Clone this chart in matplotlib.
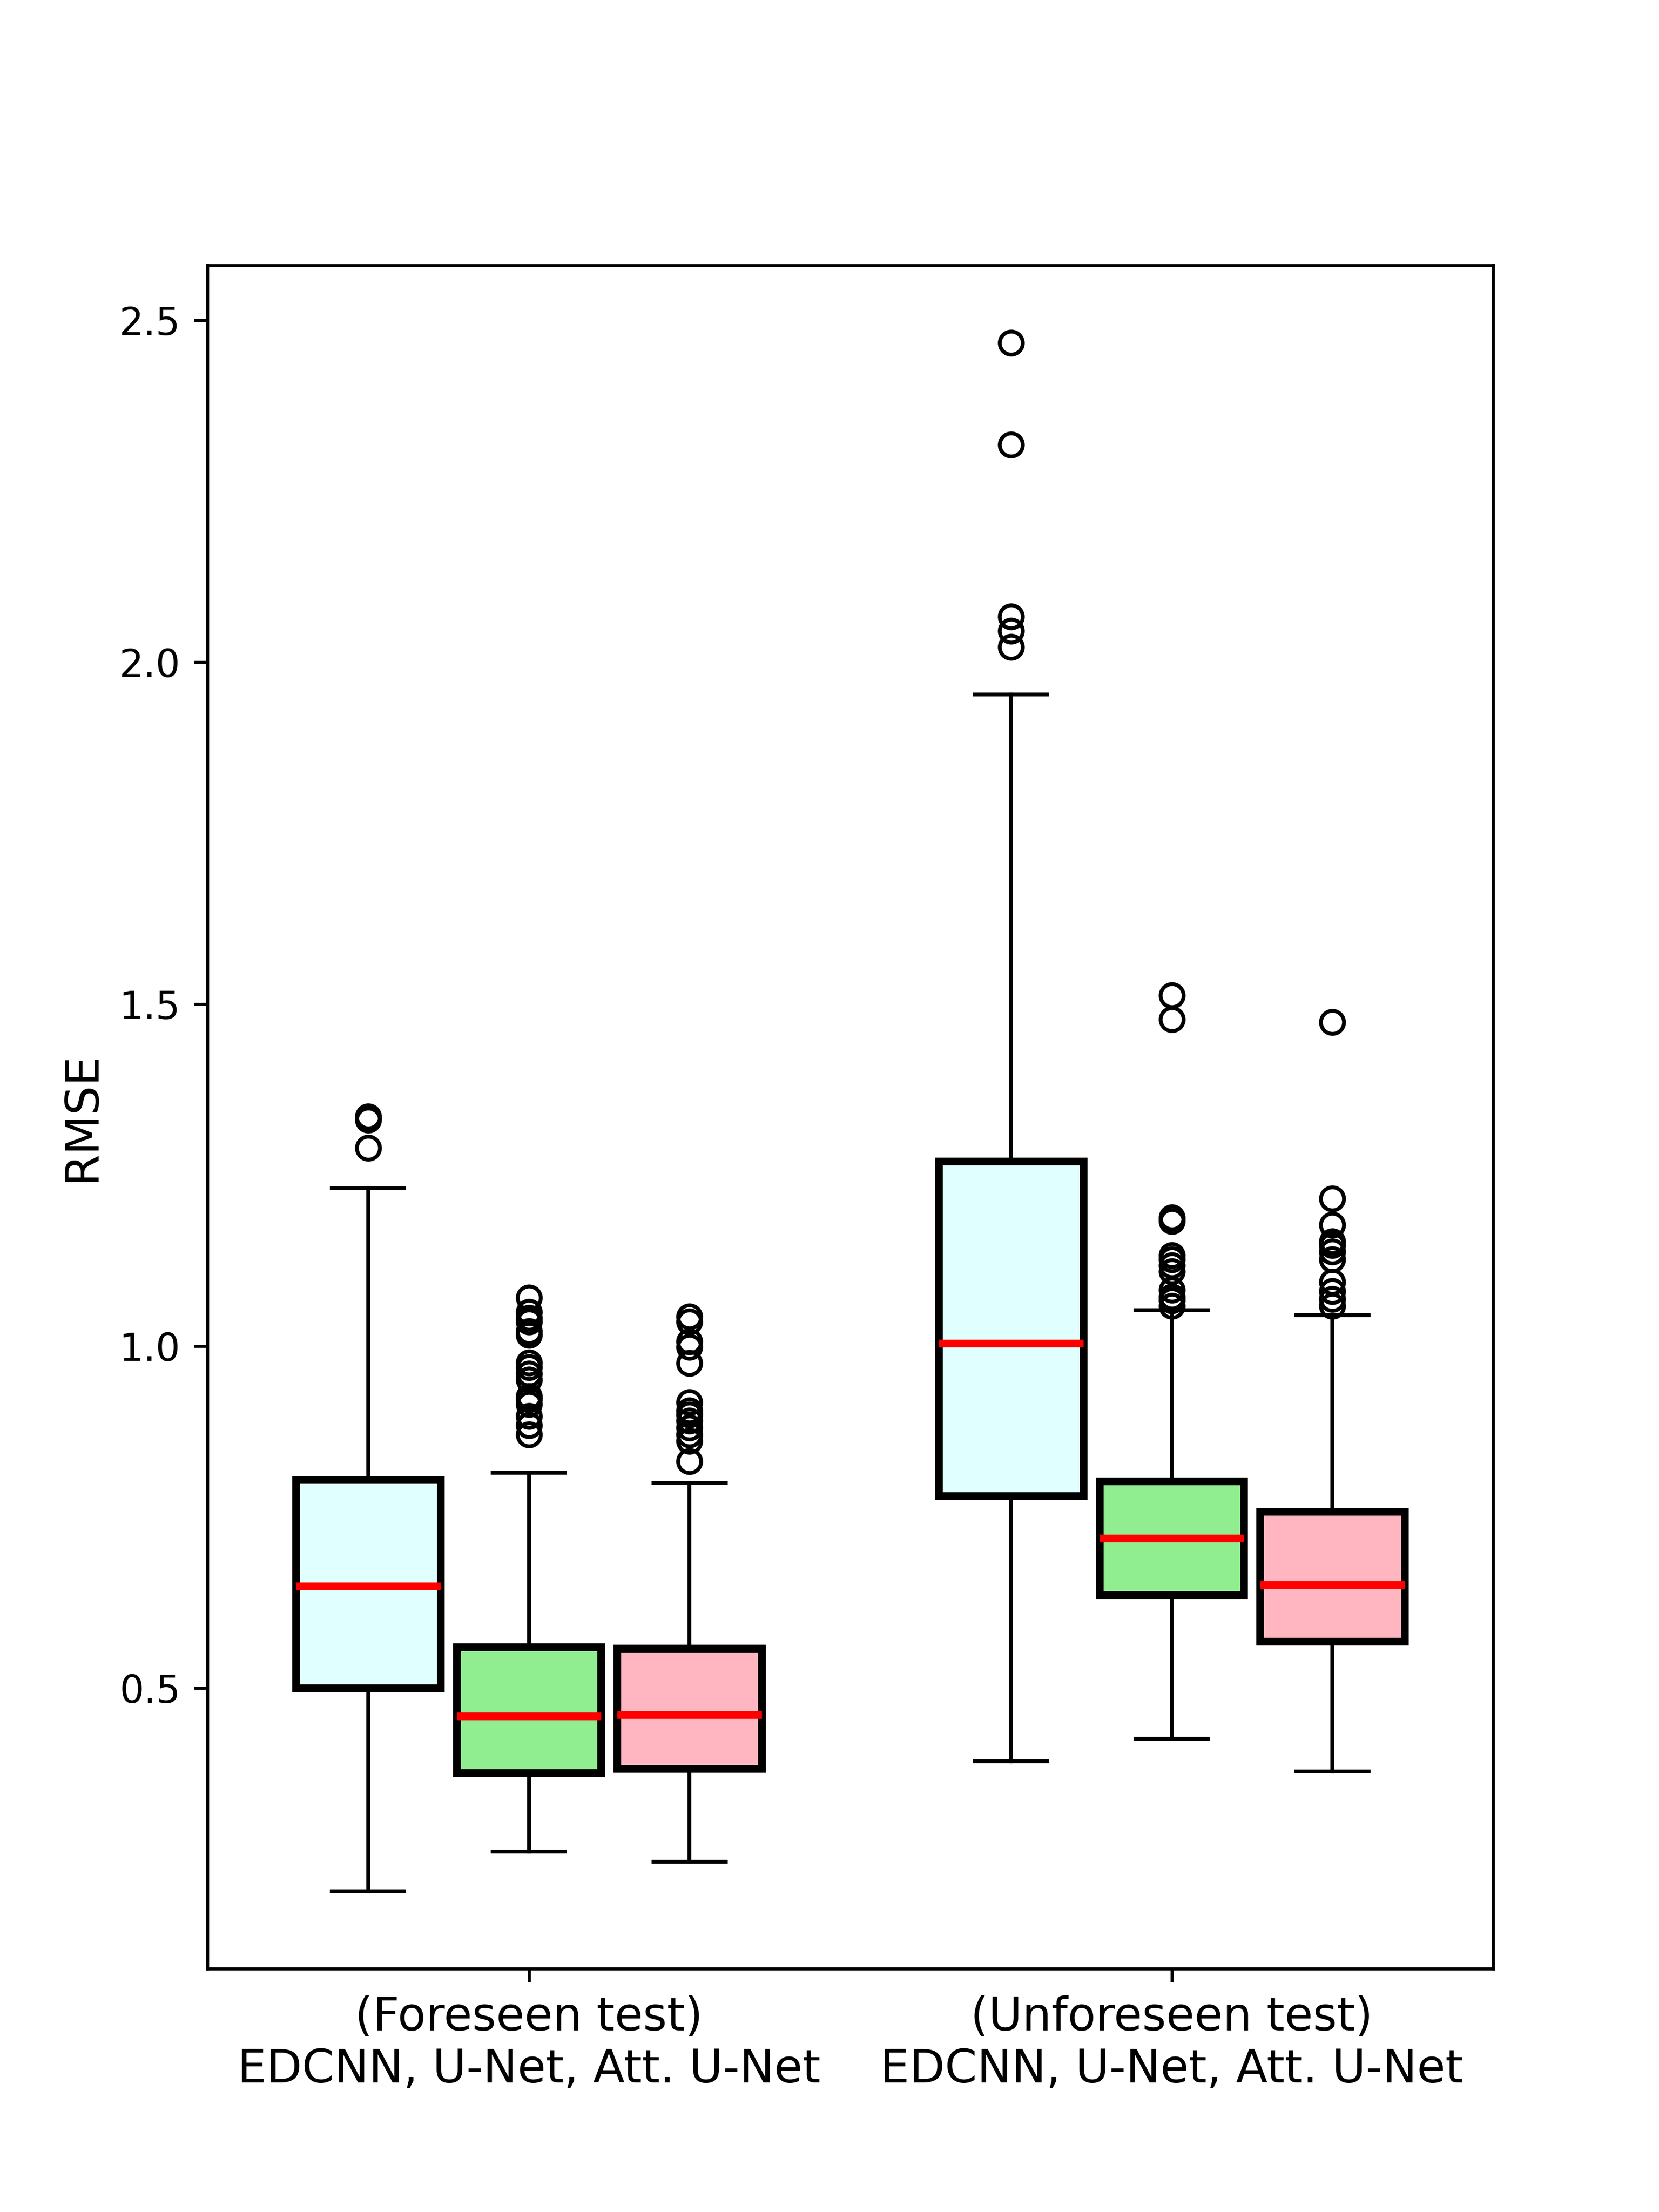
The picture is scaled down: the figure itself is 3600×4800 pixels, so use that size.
import matplotlib
matplotlib.use("Agg")
import matplotlib.pyplot as plt

# ---- data ----
models = ["EDCNN", "U-Net", "Att. U-Net"]
groups = ["(Foreseen test)\nEDCNN, U-Net, Att. U-Net",
          "(Unforeseen test)\nEDCNN, U-Net, Att. U-Net"]
colors = ["lightcyan", "lightgreen", "lightpink"]

q1 = [0.500, 0.376, 0.382, 0.781, 0.636, 0.568]
med = [0.649, 0.459, 0.461, 1.004, 0.719, 0.651]
q3 = [0.805, 0.560, 0.558, 1.270, 0.803, 0.758]
whislo = [0.203, 0.261, 0.246, 0.393, 0.426, 0.378]
whishi = [1.231, 0.815, 0.800, 1.953, 1.053, 1.045]
fliers = [
    [1.336, 1.331, 1.290],
    [1.071, 1.050, 1.041, 1.036, 1.022, 1.016, 0.976, 0.969, 0.960, 0.951,
     0.927, 0.922, 0.915, 0.898, 0.884, 0.871],
    [1.043, 1.036, 1.007, 0.999, 0.975, 0.918, 0.906, 0.900, 0.891, 0.881,
     0.871, 0.861, 0.832],
    [2.467, 2.318, 2.067, 2.046, 2.022],
    [1.513, 1.478, 1.188, 1.183, 1.133, 1.127, 1.118, 1.109, 1.082, 1.072,
     1.067, 1.059],
    [1.474, 1.216, 1.177, 1.153, 1.148, 1.138, 1.127, 1.094, 1.080, 1.069,
     1.059],
]

positions = [1, 2, 3, 5, 6, 7]
group_ticks = [2, 6]

stats = []
for i in range(len(positions)):
    stats.append(dict(med=med[i], q1=q1[i], q3=q3[i], whislo=whislo[i],
                      whishi=whishi[i], fliers=fliers[i]))

fig, ax = plt.subplots(figsize=(6, 8), dpi=600)
bp = ax.bxp(stats, positions=positions, widths=0.9, patch_artist=True,
            boxprops=dict(linewidth=2, edgecolor="black"),
            medianprops=dict(color="red", linewidth=2),
            whiskerprops=dict(linewidth=1),
            capprops=dict(linewidth=1),
            flierprops=dict(marker="o", markerfacecolor="none",
                            markeredgecolor="black", markersize=6))
for i, box in enumerate(bp["boxes"]):
    box.set_facecolor(colors[i % 3])

ax.set_xlim(0, 8)
ax.set_xticks(group_ticks)
ax.set_xticklabels(groups, fontsize=12)
ax.tick_params(axis="y", labelsize=10)
ax.set_ylabel("RMSE", fontsize=12)

fig.savefig("out.png", dpi=600)
